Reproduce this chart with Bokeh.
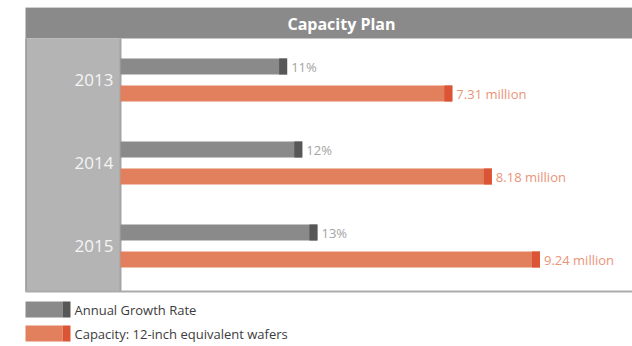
from bokeh.plotting import figure
from bokeh.models import Range1d, ColumnDataSource
from bokeh.core.properties import value
from bokeh.embed import file_html
from bokeh.resources import INLINE

# ---- data ----
years = ["2013", "2014", "2015"]
growth_rate = [11, 12, 13]            # Annual Growth Rate, %
capacity = [7.31, 8.18, 9.24]         # million 12-inch equivalent wafers
growth_labels = ["11%", "12%", "13%"]
capacity_labels = ["7.31 million", "8.18 million", "9.24 million"]
legend_labels = ["Annual Growth Rate", "Capacity: 12-inch equivalent wafers"]
title_text = "Capacity Plan"

# ---- layout constants (pixels within the figure) ----
W, H = 632, 346
X0 = 120.0      # pixel of value zero
SX = 45.4       # px per million wafers
SG = 15.15      # px per percentage point
Y0 = 79.5       # pixel of first row centre
SY = 83.0       # px per row

def fx(px):
    return (px - X0) / SX

def fy(py):
    return (py - Y0) / SY

FONT = "Open Sans"

p = figure(width=W, height=H, output_backend="svg", toolbar_location=None,
           x_range=Range1d(fx(0), fx(W)), y_range=Range1d(fy(H), fy(0)),
           min_border=0, min_border_left=0, min_border_right=0,
           min_border_top=0, min_border_bottom=0,
           x_axis_location=None, y_axis_location=None)
p.extra_x_ranges = {"g": Range1d(-X0 / SG, (W - X0) / SG)}
p.outline_line_color = None
p.xgrid.visible = False
p.ygrid.visible = False
p.background_fill_color = "white"
p.border_fill_color = "white"

# header
p.quad(left=[fx(25)], right=[fx(W)], top=[fy(7.5)], bottom=[fy(38)],
       fill_color="#8a8a8a", line_color=None)
p.segment(x0=[fx(25)], x1=[fx(W)], y0=[fy(7)], y1=[fy(7)],
          line_color="#cfcfcf", line_width=1)
p.text(x=[fx(341)], y=[fy(23)], text=[title_text], text_align="center",
       text_baseline="middle", text_color="white", text_font_style="bold",
       text_font=value(FONT), text_font_size="16px")

# left panel
p.quad(left=[fx(25)], right=[fx(120)], top=[fy(38)], bottom=[fy(291)],
       fill_color="#b4b4b4", line_color=None)
p.segment(x0=[fx(25.5)], x1=[fx(25.5)], y0=[fy(38)], y1=[fy(291)],
          line_color="#9a9a9a", line_width=1.5)
p.segment(x0=[fx(120)], x1=[fx(120)], y0=[fy(38)], y1=[fy(291)],
          line_color="#a4a4a4", line_width=2)
p.segment(x0=[fx(25)], x1=[fx(W)], y0=[fy(291)], y1=[fy(291)],
          line_color="#ababab", line_width=2)

rows = list(range(len(years)))
off = 13.5 / SY
bh = 16 / SY
src = ColumnDataSource(dict(
    row=rows, year=years, g=growth_rate, c=capacity,
    gl=growth_labels, cl=capacity_labels,
    yg=[r - off for r in rows], yc=[r + off for r in rows],
    gd=[v - 8 / SG for v in growth_rate], cd=[v - 8 / SX for v in capacity],
))

# year labels
p.text(x=fx(113), y="row", text="year", source=src, text_align="right",
       text_baseline="middle", text_color="#f5f5f5",
       text_font=value(FONT), text_font_size="17px")

# growth bars
p.hbar(y="yg", left=0, right="g", height=bh, source=src, x_range_name="g",
       fill_color="#8a8a8a", line_color=None)
p.hbar(y="yg", left="gd", right="g", height=bh, source=src, x_range_name="g",
       fill_color="#575757", line_color=None)
p.text(x="g", y="yg", text="gl", source=src, x_range_name="g", x_offset=4,
       text_baseline="middle", text_color="#a3a3a3",
       text_font=value(FONT), text_font_size="13px")

# capacity bars
p.hbar(y="yc", left=0, right="c", height=bh, source=src,
       fill_color="#e2805e", line_color=None)
p.hbar(y="yc", left="cd", right="c", height=bh, source=src,
       fill_color="#dc5436", line_color=None)
p.text(x="c", y="yc", text="cl", source=src, x_offset=4,
       text_baseline="middle", text_color="#ea9479",
       text_font=value(FONT), text_font_size="13px")

# legend (manual, two-tone swatches)
leg_y = [fy(309), fy(333)]
p.hbar(y=leg_y, left=fx(25), right=fx(62), height=bh,
       fill_color=["#8a8a8a", "#e2805e"], line_color=None)
p.hbar(y=leg_y, left=fx(62), right=fx(70), height=bh,
       fill_color=["#575757", "#dc5436"], line_color=None)
p.text(x=fx(74), y=leg_y, text=legend_labels, text_baseline="middle",
       text_color="#3c3c3c", text_font=value(FONT), text_font_size="13px")

open("out.html", "w").write(file_html(p, INLINE))
